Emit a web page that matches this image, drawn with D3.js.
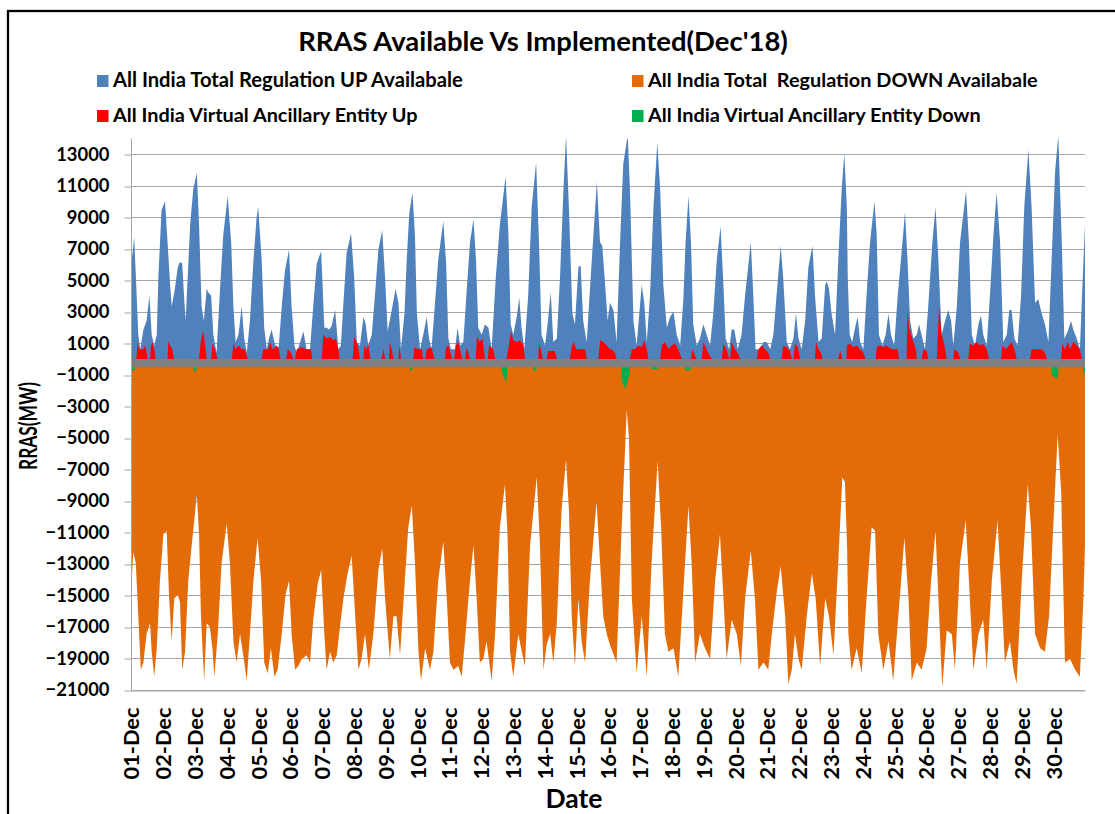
<!DOCTYPE html>
<html><head><meta charset="utf-8">
<script src="https://cdn.jsdelivr.net/npm/d3@7"></script>
<style>
body{margin:0;background:#fff}
svg{display:block}
text{font-family:Lato,"Liberation Sans",Arial,sans-serif;font-weight:bold;fill:#000;white-space:pre}
</style>
</head><body>
<svg id="c" width="1115" height="814"></svg>
<script>
const title = "RRAS Available Vs Implemented(Dec'18)";
const seriesNames = ["All India Total Regulation UP Availabale","All India Total  Regulation DOWN Availabale","All India Virtual Ancillary Entity Up","All India Virtual Ancillary Entity Down"];
const seriesColors = ["#4F81BD","#E36C09","#FF0000","#00B050"];
const dayLabels = ["01-Dec","02-Dec","03-Dec","04-Dec","05-Dec","06-Dec","07-Dec","08-Dec","09-Dec","10-Dec","11-Dec","12-Dec","13-Dec","14-Dec","15-Dec","16-Dec","17-Dec","18-Dec","19-Dec","20-Dec","21-Dec","22-Dec","23-Dec","24-Dec","25-Dec","26-Dec","27-Dec","28-Dec","29-Dec","30-Dec"];
const yTicks = [13000,11000,9000,7000,5000,3000,1000,-1000,-3000,-5000,-7000,-9000,-11000,-13000,-15000,-17000,-19000,-21000];
const yDomain = [-21000,14000];
// [time in days from 01-Dec 00:00, MW]
const upSeries = [[0.00,5800],[0.10,7750],[0.23,1540],[0.29,630],[0.39,1880],[0.49,2440],[0.58,4020],[0.65,1540],[0.73,860],[0.81,1540],[0.86,5150],[0.96,9450],
[1.07,10010],[1.15,7410],[1.23,4700],[1.28,3340],[1.38,4470],[1.47,5830],[1.54,6170],[1.61,6060],[1.68,3570],[1.72,2440],[1.76,4250],[1.86,8540],[1.96,10800],
[2.07,11820],[2.14,8540],[2.22,3340],[2.29,2440],[2.38,4470],[2.43,4250],[2.52,4020],[2.59,1540],[2.69,410],[2.80,4470],[2.90,7860],
[3.04,10350],[3.15,7410],[3.22,3340],[3.29,1080],[3.38,1540],[3.48,3340],[3.56,1310],[3.64,410],[3.74,2440],[3.85,6280],[3.95,9000],
[4.00,9670],[4.11,6280],[4.19,1990],[4.27,630],[4.34,1310],[4.42,1880],[4.51,1080],[4.58,630],[4.65,860],[4.74,3340],[4.84,5600],[4.97,6960],
[5.05,3340],[5.14,860],[5.21,410],[5.32,1080],[5.42,1760],[5.52,630],[5.63,630],[5.73,3340],[5.84,6060],[5.98,6850],
[6.08,1990],[6.15,1990],[6.23,1880],[6.31,2100],[6.42,3120],[6.52,630],[6.60,860],[6.68,3570],[6.78,6730],[6.92,7980],
[7.02,5150],[7.10,1080],[7.20,860],[7.31,2670],[7.38,2210],[7.46,860],[7.57,1540],[7.67,4020],[7.78,6960],[7.90,8200],
[7.99,5150],[8.07,1760],[8.18,2890],[8.32,4470],[8.41,3570],[8.49,630],[8.60,2890],[8.67,6280],[8.75,9220],[8.85,10580],[8.93,7860],
[8.99,2890],[9.09,630],[9.19,1540],[9.30,2670],[9.37,1310],[9.45,630],[9.56,3570],[9.66,6280],[9.82,8770],[9.91,6060],[9.98,1310],
[10.06,630],[10.19,630],[10.27,1990],[10.35,860],[10.45,1080],[10.56,4470],[10.66,7410],[10.77,8880],[10.85,6280],[10.92,1990],
[11.03,1540],[11.13,2210],[11.24,1990],[11.34,630],[11.47,5150],[11.60,8540],[11.78,11590],[11.87,7860],[11.94,2210],
[12.02,1540],[12.13,2670],[12.21,3910],[12.28,1990],[12.37,630],[12.49,4020],[12.60,9670],[12.74,12500],[12.83,7410],[12.91,1540],
[13.02,860],[13.10,2210],[13.20,4250],[13.28,1080],[13.39,1310],[13.49,5150],[13.60,10800],[13.68,14200],[13.77,9670],[13.88,2890],[13.96,2210],
[14.07,5830],[14.14,5940],[14.22,2440],[14.33,1080],[14.49,6280],[14.65,11250],[14.75,7410],[14.82,7190],[14.91,4700],
[14.99,2440],[15.06,3570],[15.17,3120],[15.27,1080],[15.38,7410],[15.48,12380],[15.62,14200],[15.69,10800],[15.80,2440],[15.90,860],
[16.06,4700],[16.14,3570],[16.22,1080],[16.32,4020],[16.43,9670],[16.55,13740],[16.64,10800],[16.74,4700],[16.85,1990],[16.95,2670],
[17.06,3010],[17.16,1540],[17.27,860],[17.37,3800],[17.44,7410],[17.53,10350],[17.61,7410],[17.68,2210],[17.79,860],[17.89,1310],
[18.00,2210],[18.10,1540],[18.21,860],[18.31,2890],[18.42,6280],[18.54,8430],[18.63,4700],[18.70,1310],[18.81,630],[18.89,1880],[18.97,1880],
[19.08,630],[19.20,1540],[19.31,4020],[19.49,7410],[19.57,4020],[19.64,630],[19.78,630],[19.89,1080],[19.99,1080],
[20.10,630],[20.20,1540],[20.30,4020],[20.43,7190],[20.51,5150],[20.62,1080],[20.72,630],[20.83,1310],[20.91,2890],[20.99,1310],
[21.09,630],[21.20,2440],[21.30,5830],[21.43,7190],[21.51,4020],[21.62,1080],[21.72,1310],[21.83,4700],[21.88,4930],[21.95,4470],
[22.03,2890],[22.14,1540],[22.24,6280],[22.35,10800],[22.43,13060],[22.51,9670],[22.54,5150],[22.60,1540],[22.68,1080],[22.77,1990],[22.85,2670],[22.93,1080],
[23.03,630],[23.13,4020],[23.24,7410],[23.38,10010],[23.45,7860],[23.52,1540],[23.63,860],[23.73,1540],[23.82,2890],[23.90,1540],
[24.00,860],[24.11,4020],[24.24,6960],[24.34,9330],[24.42,6280],[24.50,2440],[24.60,1310],[24.71,1540],[24.78,2210],[24.86,1540],[24.97,630],
[25.07,3340],[25.20,7410],[25.30,9670],[25.39,6280],[25.49,1540],[25.60,2440],[25.70,3120],[25.79,2440],[25.86,860],[25.97,3340],
[26.07,7410],[26.26,10690],[26.35,7410],[26.44,1540],[26.54,860],[26.65,2210],[26.73,2780],[26.80,1540],[26.91,860],
[27.01,4020],[27.12,7860],[27.22,10580],[27.33,7410],[27.43,1080],[27.54,1540],[27.62,3120],[27.69,3120],[27.78,1310],[27.88,860],[27.99,4020],
[28.09,9670],[28.22,13290],[28.32,9670],[28.43,3570],[28.53,3800],[28.64,2890],[28.74,2210],[28.85,1080],[28.95,6280],
[29.06,11930],[29.16,14200],[29.27,7410],[29.35,1310],[29.46,1760],[29.56,2440],[29.63,1880],[29.74,1310],[29.84,630],[29.92,4700],[30.00,8540]];
const downSeries = [[0.00,-14960],[0.07,-12250],[0.15,-12930],[0.23,-16320],[0.31,-19710],[0.39,-19260],[0.49,-17450],[0.60,-16770],[0.65,-18580],[0.73,-20160],[0.81,-18350],[0.91,-14060],
[1.02,-11120],[1.12,-10890],[1.20,-15190],[1.28,-17900],[1.36,-15190],[1.47,-14960],[1.54,-15410],[1.61,-19710],[1.70,-18580],[1.80,-14060],[1.91,-11800],
[2.07,-8630],[2.14,-11120],[2.20,-16320],[2.30,-20390],[2.38,-16770],[2.48,-17000],[2.56,-18350],[2.62,-20160],[2.73,-17450],[2.85,-12930],
[3.01,-10440],[3.11,-12930],[3.22,-17900],[3.32,-19260],[3.43,-17450],[3.53,-18800],[3.64,-20390],[3.74,-17450],[3.85,-14060],[3.98,-11350],
[4.09,-14060],[4.19,-19260],[4.30,-19930],[4.40,-18350],[4.51,-20160],[4.61,-19710],[4.74,-17450],[4.86,-14960],[4.97,-14060],
[5.05,-17450],[5.16,-19710],[5.26,-19480],[5.37,-19030],[5.52,-18800],[5.63,-19260],[5.73,-16540],[5.87,-14280],[5.98,-13380],
[6.08,-17450],[6.15,-19710],[6.26,-18580],[6.36,-19260],[6.47,-18800],[6.57,-17000],[6.68,-15190],[6.81,-13610],[6.94,-12480],
[7.05,-16320],[7.15,-19710],[7.25,-19030],[7.36,-17450],[7.48,-19710],[7.62,-17450],[7.78,-13380],[7.90,-12020],
[7.99,-15190],[8.14,-19030],[8.25,-16320],[8.35,-16320],[8.46,-18800],[8.56,-15640],[8.72,-10670],[8.83,-9310],[8.93,-12930],
[9.04,-18580],[9.12,-20390],[9.25,-18350],[9.40,-19710],[9.51,-18580],[9.66,-14060],[9.82,-11570],[9.93,-15190],
[10.03,-19260],[10.14,-19710],[10.29,-19480],[10.40,-20160],[10.50,-17900],[10.66,-14060],[10.77,-11800],[10.87,-15190],[10.97,-19260],
[11.08,-19030],[11.18,-17900],[11.34,-20390],[11.45,-17450],[11.60,-10670],[11.76,-7960],[11.84,-11120],[11.92,-18580],
[12.02,-20160],[12.18,-17450],[12.29,-18580],[12.39,-19480],[12.55,-11800],[12.76,-7500],[12.86,-11800],[12.97,-19710],
[13.07,-18130],[13.18,-17450],[13.28,-19260],[13.39,-16770],[13.54,-9540],[13.68,-6370],[13.77,-9540],[13.86,-16320],[13.96,-19480],
[14.07,-15190],[14.17,-17900],[14.28,-19260],[14.43,-14060],[14.64,-9080],[14.75,-12930],[14.85,-16320],[14.96,-17450],
[15.06,-18130],[15.27,-19260],[15.43,-10670],[15.59,-3210],[15.66,-5020],[15.75,-15190],[15.90,-19930],
[16.06,-16320],[16.22,-20160],[16.37,-12930],[16.56,-6490],[16.67,-10670],[16.79,-17450],[16.90,-18580],
[17.06,-18350],[17.21,-20160],[17.37,-14730],[17.53,-9310],[17.63,-12930],[17.74,-19260],[17.89,-17450],
[18.05,-18350],[18.21,-19030],[18.37,-14060],[18.52,-11120],[18.63,-15190],[18.73,-19030],[18.89,-16540],
[19.05,-17450],[19.18,-19480],[19.31,-15190],[19.49,-12140],[19.62,-15190],[19.73,-19710],[19.89,-19260],
[20.04,-19710],[20.15,-17450],[20.31,-14730],[20.43,-13150],[20.57,-16320],[20.67,-20610],[20.78,-19710],[20.88,-17450],[20.99,-19030],
[21.09,-19710],[21.25,-16320],[21.41,-13610],[21.53,-15190],[21.67,-19480],[21.83,-15190],[21.95,-16320],
[22.09,-18800],[22.24,-12930],[22.37,-7500],[22.45,-7800],[22.52,-12000],[22.56,-17450],[22.66,-19710],[22.82,-18350],[22.98,-19930],
[23.13,-15190],[23.29,-10670],[23.40,-10890],[23.50,-17450],[23.66,-19710],[23.82,-17900],[23.97,-20390],
[24.13,-16320],[24.32,-11350],[24.45,-15190],[24.55,-20390],[24.71,-19260],[24.86,-19710],
[25.02,-18350],[25.16,-14060],[25.30,-10890],[25.39,-15190],[25.51,-20840],[25.65,-17220],[25.81,-17450],[25.91,-19710],
[26.07,-12930],[26.25,-10220],[26.35,-14060],[26.49,-19710],[26.65,-17450],[26.80,-16540],[26.91,-19710],
[27.07,-14060],[27.25,-10220],[27.38,-15190],[27.48,-19260],[27.64,-17900],[27.75,-19710],[27.85,-20610],
[28.01,-14060],[28.20,-7960],[28.30,-10670],[28.43,-17450],[28.59,-18350],[28.74,-18580],[28.87,-16320],
[29.00,-10670],[29.14,-4790],[29.25,-8410],[29.37,-19260],[29.53,-19030],[29.69,-19710],[29.84,-20160],[29.95,-15190],[30.00,-11800]];
const vaeUpSeries = [[0.17,0],[0.19,630],[0.21,1130],[0.25,630],[0.39,630],[0.44,860],[0.49,400],[0.52,0],
[0.60,0],[0.63,860],[0.67,1080],[0.73,630],[0.77,0],
[1.15,0],[1.17,1130],[1.23,860],[1.30,630],[1.35,0],
[2.14,0],[2.20,1200],[2.27,1760],[2.33,860],[2.38,0],
[2.52,0],[2.56,970],[2.64,630],[2.72,0],
[3.17,0],[3.22,970],[3.29,630],[3.38,860],[3.48,630],[3.58,630],[3.67,0],
[4.11,0],[4.16,630],[4.32,630],[4.37,1080],[4.45,630],[4.58,860],[4.65,630],[4.70,0],
[4.88,0],[4.93,630],[5.03,400],[5.10,0],
[5.16,0],[5.21,630],[5.37,750],[5.52,630],[5.66,630],[5.70,0],
[6.00,0],[6.05,1540],[6.15,1310],[6.26,1420],[6.36,1200],[6.44,1310],[6.52,630],[6.56,0],
[6.97,0],[7.02,1420],[7.10,1080],[7.15,630],[7.20,0],
[7.31,0],[7.34,860],[7.41,630],[7.46,970],[7.48,630],[7.53,0],
[7.88,0],[7.94,630],[7.99,0],
[8.11,0],[8.14,1080],[8.20,630],[8.25,0],
[8.41,0],[8.44,860],[8.49,0],
[8.88,0],[8.91,750],[9.04,630],[9.14,630],[9.19,0],
[9.25,0],[9.30,630],[9.45,750],[9.54,0],
[9.87,0],[9.91,750],[9.98,860],[10.10,0],
[10.17,0],[10.21,860],[10.29,1080],[10.42,0],
[10.50,0],[10.56,750],[10.66,0],
[10.84,0],[10.88,1420],[10.97,1080],[11.05,1310],[11.13,0],
[11.22,0],[11.26,860],[11.39,630],[11.45,0],
[11.81,0],[11.89,970],[11.95,1760],[12.02,1200],[12.13,1080],[12.23,1200],[12.34,860],[12.39,0],
[12.81,0],[12.83,970],[12.89,630],[12.95,0],
[13.07,0],[13.12,520],[13.33,520],[13.39,0],
[13.80,0],[13.86,750],[13.91,1080],[14.01,630],[14.12,630],[14.28,630],[14.33,0],
[14.70,0],[14.75,1200],[14.85,1080],[14.96,860],[15.06,630],[15.12,630],[15.22,400],[15.27,0],
[15.69,0],[15.75,630],[15.85,630],[15.95,860],[16.06,750],[16.14,1200],[16.22,630],[16.27,0],
[16.64,0],[16.69,860],[16.79,1080],[16.90,630],[17.00,860],[17.11,970],[17.21,630],[17.32,0],
[17.61,0],[17.65,630],[17.74,180],[17.79,0],
[17.95,0],[18.00,1080],[18.10,630],[18.21,180],[18.26,0],
[18.58,0],[18.63,970],[18.73,630],[18.81,0],
[18.84,0],[18.89,1080],[18.99,630],[19.10,300],[19.15,0],
[19.68,0],[19.73,630],[19.83,860],[19.94,630],[20.04,400],[20.10,0],
[20.46,0],[20.51,860],[20.62,750],[20.72,520],[20.78,0],
[20.83,0],[20.88,970],[20.97,750],[21.04,0],
[21.51,0],[21.54,1080],[21.62,630],[21.70,400],[21.74,0],
[22.24,0],[22.30,520],[22.37,0],
[22.50,0],[22.51,860],[22.61,970],[22.72,750],[22.82,860],[22.93,630],[23.03,400],[23.10,0],
[23.42,0],[23.45,750],[23.55,860],[23.66,750],[23.76,860],[23.92,630],[24.11,630],[24.15,0],
[24.39,0],[24.42,3120],[24.47,1990],[24.53,1540],[24.60,1080],[24.68,630],[24.71,0],
[24.86,0],[24.92,630],[25.02,520],[25.07,0],
[25.34,0],[25.41,3340],[25.49,1540],[25.58,860],[25.65,0],
[25.86,0],[25.89,630],[26.02,400],[26.07,0],
[26.33,0],[26.38,970],[26.49,860],[26.59,1080],[26.70,860],[26.80,970],[26.91,630],[26.98,0],
[27.36,0],[27.40,860],[27.51,630],[27.61,860],[27.69,1080],[27.78,630],[27.85,0],
[28.27,0],[28.32,630],[28.48,630],[28.64,630],[28.74,400],[28.80,0],
[29.25,0],[29.29,970],[29.37,630],[29.46,1080],[29.53,630],[29.63,1080],[29.74,860],[29.84,630],[29.90,0]];
const vaeDownSeries = [[0.00,-700],[0.12,-700],[0.14,0],
[1.60,0],[1.61,-750],[1.63,0],
[1.95,0],[1.96,-700],[2.00,-800],[2.06,-700],[2.08,0],
[8.27,0],[8.28,-700],[8.29,0],
[8.76,0],[8.77,-700],[8.85,-700],[8.86,0],
[11.65,0],[11.66,-800],[11.80,-1500],[11.83,-800],[11.84,0],
[12.64,0],[12.65,-750],[12.75,-750],[12.76,0],
[15.42,0],[15.43,-1400],[15.55,-1900],[15.60,-1500],[15.69,-800],[15.70,0],
[16.36,0],[16.37,-650],[16.56,-650],[16.57,0],
[17.41,0],[17.42,-700],[17.60,-700],[17.61,0],
[24.73,0],[24.74,-600],[24.75,0],
[25.64,0],[25.65,-700],[25.66,0],
[28.14,0],[28.15,-600],[28.16,0],
[28.94,0],[28.95,-1000],[29.10,-1250],[29.16,-1000],[29.17,0],
[29.94,0],[29.95,-900],[30.00,-900]];
const axisBandDepth = -520; // thick gray category axis below zero

const svg = d3.select("#c");
const L = 131, R = 1085;
const x = d3.scaleLinear().domain([0, dayLabels.length]).range([L, R]);
const y = d3.scaleLinear().domain(yDomain).range([690, 138.5]);
const gridColor = "#A6A6A6";

function fit(t, target){
  const w = t.node().getComputedTextLength();
  const fs = parseFloat(t.attr("font-size"));
  t.attr("font-size", fs * target / w);
}

// outer frame
svg.append("rect").attr("x",8).attr("y",11).attr("width",1130).attr("height",830)
  .attr("fill","none").attr("stroke","#000").attr("stroke-width",2.3);

// title
fit(svg.append("text").attr("x",543).attr("y",51).attr("text-anchor","middle")
  .attr("font-size",22).text(title), 490);

// legend
const leg = [
  {i:0, sx:97, ty:87, tw:350},
  {i:1, sx:632, ty:87, tw:390},
  {i:2, sx:97, ty:122, tw:305},
  {i:3, sx:632, ty:122, tw:333}
];
leg.forEach(d=>{
  svg.append("rect").attr("x",d.sx).attr("y",d.ty-12).attr("width",11.5).attr("height",12)
    .attr("fill",seriesColors[d.i]);
  fit(svg.append("text").attr("x",d.sx+16).attr("y",d.ty).attr("font-size",17)
    .text(seriesNames[d.i]), d.tw);
});

// gridlines
svg.append("g").selectAll("line").data(yTicks).join("line")
  .attr("x1",L).attr("x2",R)
  .attr("y1",d=>Math.round(y(d))+0.5).attr("y2",d=>Math.round(y(d))+0.5)
  .attr("stroke",gridColor).attr("stroke-width",1);

// clip
svg.append("clipPath").attr("id","pc").append("rect")
  .attr("x",L).attr("y",y(yDomain[1])).attr("width",R-L).attr("height",y(yDomain[0])-y(yDomain[1]));

const plot = svg.append("g").attr("clip-path","url(#pc)");
const area = d3.area().x(d=>x(d[0])).y0(y(0)).y1(d=>y(d[1]));
[[upSeries,0],[downSeries,1],[vaeUpSeries,2],[vaeDownSeries,3]].forEach(([s,i])=>{
  plot.append("path").datum(s).attr("d",area).attr("fill",seriesColors[i]);
});
// thick gray category axis band
plot.append("rect").attr("x",L).attr("width",R-L)
  .attr("y",y(0)).attr("height",y(axisBandDepth)-y(0)).attr("fill","#808080");

// y axis
const ya = svg.append("g").attr("transform",`translate(${L+0.5},0)`)
  .call(d3.axisLeft(y).tickValues(yTicks).tickSize(7).tickPadding(15).tickFormat(d3.format("d")));
ya.select(".domain").attr("stroke",gridColor).attr("d",`M0,${y(yDomain[1])}V${y(yDomain[0])}`);
ya.selectAll(".tick line").attr("stroke",gridColor).attr("transform",d=>`translate(0,${Math.round(y(d))+0.5-y(d)})`);
ya.selectAll(".tick text").attr("font-size",20).attr("font-family",null).attr("fill","#000");
{
  const t = ya.select(".tick:last-of-type text");
  const w = t.node().getComputedTextLength();
  ya.selectAll(".tick text").attr("font-size", 20*64/w);
}

// x axis
const xa = svg.append("g").attr("transform",`translate(0,${Math.round(y(yDomain[0]))+0.5})`)
  .call(d3.axisBottom(x).tickValues(d3.range(dayLabels.length)).tickSize(0).tickFormat(i=>dayLabels[i]));
xa.select(".domain").attr("stroke",gridColor);
xa.selectAll(".tick text").attr("font-size",22).attr("font-family",null).attr("fill","#000")
  .attr("transform","rotate(-90)").attr("text-anchor","end").attr("x",-17).attr("y",0).attr("dy","0.36em");
{
  const t = xa.select(".tick text");
  const w = t.node().getComputedTextLength();
  xa.selectAll(".tick text").attr("font-size", 22*72/w);
}

// axis titles
fit(svg.append("text").attr("x",574).attr("y",808).attr("text-anchor","middle").attr("font-size",20).text("Date"), 57);
svg.append("text").attr("transform","translate(37,426) rotate(-90)").attr("text-anchor","middle")
  .attr("font-size",24).attr("textLength",88).attr("lengthAdjust","spacingAndGlyphs").text("RRAS(MW)");
</script>
</body></html>
